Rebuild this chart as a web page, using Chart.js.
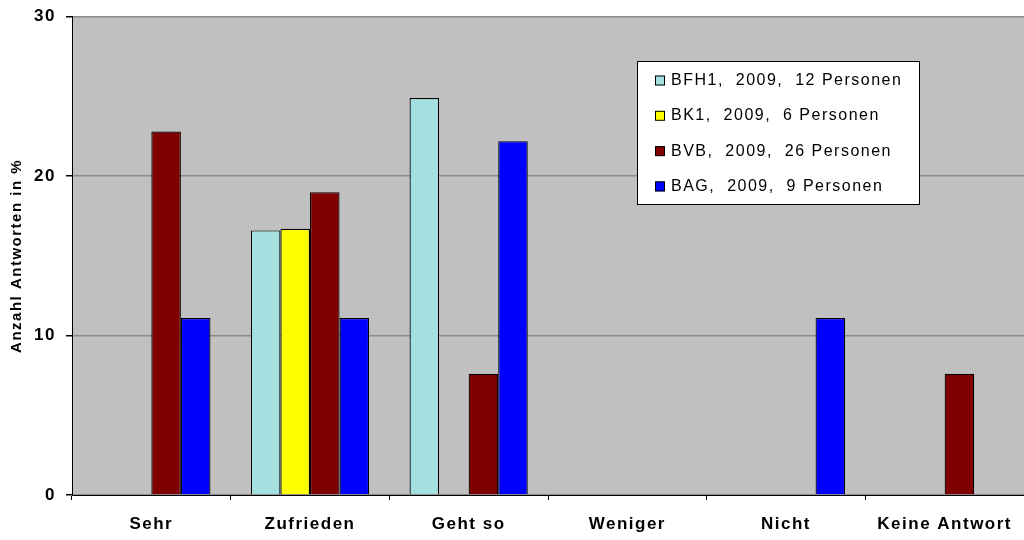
<!DOCTYPE html>
<html>
<head>
<meta charset="utf-8">
<script src="https://cdn.jsdelivr.net/npm/chart.js@4.4.0/dist/chart.umd.min.js"></script>
<style>
  body { margin: 0; background: #fff; }
  #wrap { width: 1024px; height: 540px; }
</style>
</head>
<body>
<div id="wrap"><canvas id="grafico"></canvas></div>
<script>
var kategorien = ['Sehr', 'Zufrieden', 'Geht so', 'Weniger', 'Nicht', 'Keine Antwort'];
var serienNamen = ['BFH1,  2009,  12 Personen', 'BK1,  2009,  6 Personen', 'BVB,  2009,  26 Personen', 'BAG,  2009,  9 Personen'];
var bfh1 = [null, 16.6, 24.9, null, null, null];
var bk1 = [null, 16.7, null, null, null, null];
var bvb = [22.8, 19.0, 7.6, null, null, 7.6];
var bag = [11.1, 11.1, 22.2, null, 11.1, null];
var farben = ['#A4E0E0', '#FFFF00', '#800000', '#0000FF'];
var yTicks = [0, 10, 20, 30];

var schrift = '"Liberation Sans", Arial, sans-serif';

// grauer Hintergrund der Zeichenflaeche + Buchstabenabstand
var hintergrund = {
    id: 'hintergrund',
    beforeDraw: function (chart) {
        var a = chart.chartArea, c = chart.ctx;
        c.letterSpacing = '1.5px';
        c.save();
        c.fillStyle = '#C0C0C0';
        c.fillRect(a.left, a.top, a.right - a.left, a.bottom - a.top);
        c.restore();
    }
};

// Legende als Kasten innerhalb der Zeichenflaeche
var legendeBox = {
    id: 'legendeBox',
    afterDraw: function (chart) {
        var c = chart.ctx;
        var x = 637, y = 61, w = 282, h = 143;
        c.save();
        c.fillStyle = '#fff';
        c.fillRect(x, y, w, h);
        c.strokeStyle = '#000';
        c.lineWidth = 1;
        c.strokeRect(x + 0.5, y + 0.5, w, h);
        c.font = '16px ' + schrift;
        c.textBaseline = 'middle';
        chart.data.datasets.forEach(function (ds, i) {
            var cy = 80.5 + i * 35.3;
            c.fillStyle = ds.backgroundColor;
            c.fillRect(655, cy - 5, 10, 10);
            c.strokeStyle = '#000';
            c.strokeRect(655.5, cy - 4.5, 9, 9);
            c.fillStyle = '#000';
            c.fillText(ds.label, 671, cy);
        });
        c.restore();
    }
};

var datensaetze = [bfh1, bk1, bvb, bag].map(function (werte, i) {
    return {
        label: serienNamen[i],
        data: werte,
        backgroundColor: farben[i],
        borderColor: '#000',
        borderWidth: 1.2,
        borderSkipped: 'bottom',
        barPercentage: 1,
        categoryPercentage: 0.745
    };
});

new Chart(document.getElementById('grafico'), {
    type: 'bar',
    data: { labels: kategorien, datasets: datensaetze },
    plugins: [hintergrund, legendeBox],
    options: {
        responsive: true,
        maintainAspectRatio: false,
        animation: false,
        layout: { padding: { top: 16, right: 0, left: 0, bottom: 0 } },
        plugins: { legend: { display: false }, tooltip: { enabled: false } },
        scales: {
            x: {
                afterFit: function (ax) { ax.height = 45; },
                grid: { offset: true, drawOnChartArea: false, color: '#000', tickLength: 5 },
                border: { color: '#000', width: 1 },
                ticks: {
                    color: '#000',
                    padding: 14,
                    font: { family: schrift, size: 17, weight: 'bold' }
                }
            },
            y: {
                min: 0,
                max: 30,
                afterFit: function (ax) { ax.width = 72; },
                afterBuildTicks: function (ax) { ax.ticks = yTicks.map(function (v) { return { value: v }; }); },
                grid: { color: '#8c8c8c', lineWidth: 1.5, tickColor: '#000', tickLength: 6 },
                border: { color: '#000', width: 1 },
                ticks: {
                    color: '#000',
                    padding: 10,
                    font: { family: schrift, size: 17, weight: 'bold', lineHeight: 0.8 }
                },
                title: {
                    display: true,
                    text: 'Anzahl Antworten in %',
                    color: '#000',
                    padding: { top: 8, bottom: 8 },
                    font: { family: schrift, size: 15, weight: 'bold' }
                }
            }
        }
    }
});
</script>
</body>
</html>
